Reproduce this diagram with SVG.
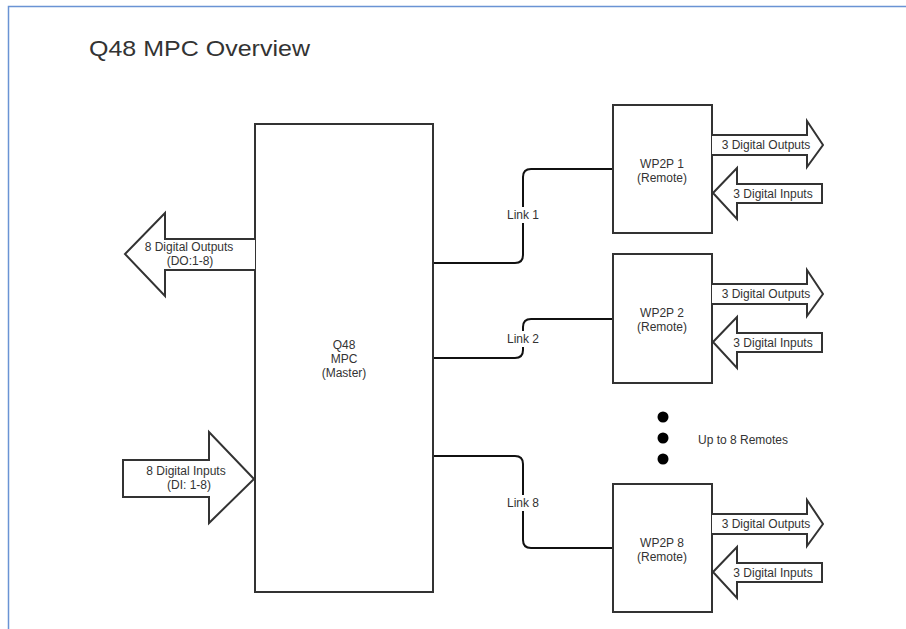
<svg xmlns="http://www.w3.org/2000/svg" width="906" height="629" viewBox="0 0 906 629">
<style>
.box{fill:#fff;stroke:#333;stroke-width:2}
.arr{fill:#fff;stroke:#333;stroke-width:2;stroke-linejoin:miter}
.link{fill:none;stroke:#111;stroke-width:2}
text{font-family:"Liberation Sans",Arial,sans-serif;font-size:12px;fill:#333}
.c{text-anchor:middle}
.lbl{fill:#fff;stroke:none}
</style>
<rect x="8.5" y="6.5" width="910" height="640" fill="#fff" stroke="#6a93d4" stroke-width="1.5"/>
<text x="89" y="56" style="font-size:22px;fill:#333" textLength="221" lengthAdjust="spacingAndGlyphs">Q48 MPC Overview</text>

<g id="connectors">
<path class="link" d="M433,263 H515 Q523,263 523,255 V177 Q523,169 531,169 H613"/>
<rect class="lbl" x="503" y="207" width="40" height="16"/>
<text class="c" x="523" y="219">Link 1</text>
<path class="link" d="M433,358 H515 Q523,358 523,350 V327 Q523,319 531,319 H613"/>
<rect class="lbl" x="503" y="331" width="40" height="16"/>
<text class="c" x="523" y="343">Link 2</text>
<path class="link" d="M433,456 H515 Q523,456 523,464 V540 Q523,548 531,548 H613"/>
<rect class="lbl" x="503" y="495" width="40" height="16"/>
<text class="c" x="523" y="507">Link 8</text>
</g>

<g id="master">
<rect class="box" x="255" y="124" width="178" height="468"/>
<text class="c" x="344" y="349">Q48</text>
<text class="c" x="344" y="363">MPC</text>
<text class="c" x="344" y="377">(Master)</text>
</g>

<g id="master-outputs">
<path class="arr" d="M255,239 H165 V213 L125,254 L165,296 V270 H255"/>
<text class="c" x="189" y="251">8 Digital Outputs</text>
<text class="c" x="190" y="265">(DO:1-8)</text>
</g>

<g id="master-inputs">
<path class="arr" d="M123,460 H209 V432 L254,479 L209,523 V497 H123 Z"/>
<text class="c" x="186" y="475">8 Digital Inputs</text>
<text class="c" x="189" y="489">(DI: 1-8)</text>
</g>

<g id="remote1">
<rect class="box" x="613" y="105" width="99" height="128"/>
<text class="c" x="662" y="168">WP2P 1</text>
<text class="c" x="662" y="182">(Remote)</text>
<path class="arr" d="M712,135 H807 V121 L823,145 L807,167 V155 H712"/>
<text class="c" x="766" y="149">3 Digital Outputs</text>
<path class="arr" d="M713,193 L737,168 V184 H822 V203 H737 V219 Z"/>
<text class="c" x="773" y="198">3 Digital Inputs</text>
</g>

<g id="remote2">
<rect class="box" x="613" y="254" width="99" height="129"/>
<text class="c" x="662" y="317">WP2P 2</text>
<text class="c" x="662" y="331">(Remote)</text>
<path class="arr" d="M712,284 H807 V270 L823,294 L807,316 V304 H712"/>
<text class="c" x="766" y="298">3 Digital Outputs</text>
<path class="arr" d="M713,342 L737,317 V333 H822 V352 H737 V368 Z"/>
<text class="c" x="773" y="347">3 Digital Inputs</text>
</g>

<g id="more-remotes">
<circle cx="663" cy="417" r="5.5" fill="#000"/>
<circle cx="663" cy="438" r="5.5" fill="#000"/>
<circle cx="663" cy="459" r="5.5" fill="#000"/>
<text x="698" y="444">Up to 8 Remotes</text>
</g>

<g id="remote8">
<rect class="box" x="613" y="484" width="99" height="128"/>
<text class="c" x="662" y="547">WP2P 8</text>
<text class="c" x="662" y="561">(Remote)</text>
<path class="arr" d="M712,514 H807 V500 L823,524 L807,546 V534 H712"/>
<text class="c" x="766" y="528">3 Digital Outputs</text>
<path class="arr" d="M713,572 L737,547 V563 H822 V582 H737 V598 Z"/>
<text class="c" x="773" y="577">3 Digital Inputs</text>
</g>
</svg>
